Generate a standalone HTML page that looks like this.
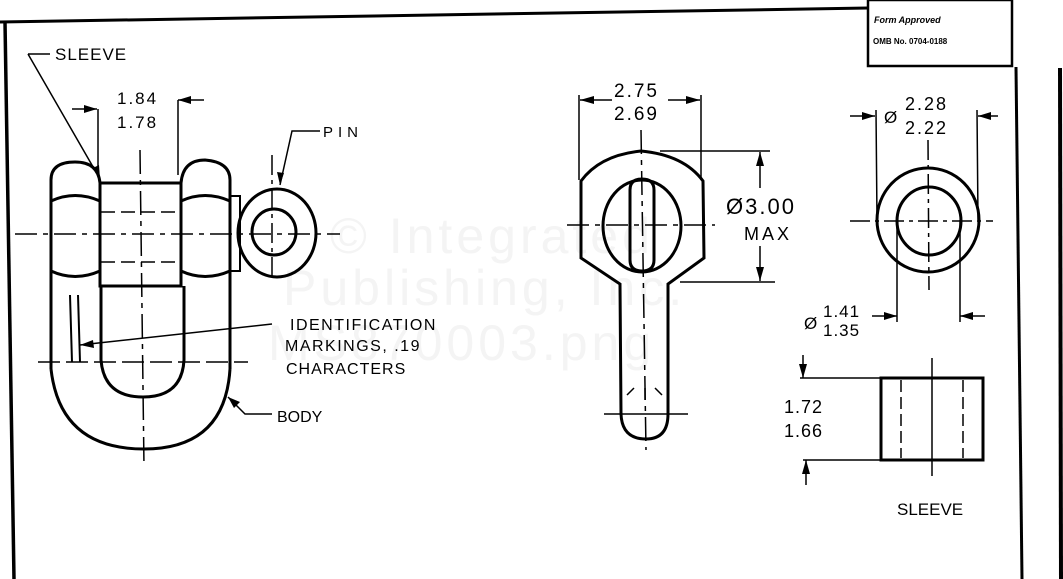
<!DOCTYPE html>
<html><head><meta charset="utf-8"><style>
html,body{margin:0;padding:0;background:#fff;}
svg{display:block;}
text{font-family:"Liberation Sans",sans-serif;fill:#000;}
.wm{fill:#f4f4f4;font-size:50px;}
</style></head><body>
<svg width="1063" height="579" viewBox="0 0 1063 579" xmlns="http://www.w3.org/2000/svg">
<!-- watermark -->
<text class="wm" x="330" y="253" letter-spacing="4">© Integrated</text>
<text class="wm" x="283" y="305" letter-spacing="4">Publishing, Inc.</text>
<text class="wm" x="268" y="360" letter-spacing="4">MS870003.png</text>

<g stroke="#000" fill="none">
<!-- borders -->
<path d="M0 22 L868 8" stroke-width="3"/>
<path d="M5 22 L14 579" stroke-width="3.5"/>
<path d="M1016 67 L1022 579" stroke-width="3"/>
<path d="M1060 68 L1061 579" stroke-width="4"/>
<rect x="868" y="0" width="144" height="66" stroke-width="2.5"/>

<!-- LEFT: shackle body -->
<g stroke-width="3">
<path d="M51 369 L51 180 Q51 162 75 162 Q98 162 100 183"/>
<path d="M181 183 Q183 160 205 160 Q230 162 230 180 L230 369"/>
<path d="M51 369 Q60 449 144 449 Q225 449 230 369"/>
<rect x="100" y="183" width="81" height="103"/>
<path d="M101 286 L101 360 Q104 397 143 397 Q182 397 184 360 L184 286"/>
<path d="M51 201 Q75 190 100 201 M181 201 Q205 190 230 201"/>
<path d="M51 271 Q75 282 100 271 M181 271 Q205 282 230 271"/>
<rect x="230" y="196" width="10" height="75" stroke-width="2"/>
<ellipse cx="277" cy="233" rx="39" ry="44"/>
<ellipse cx="274" cy="232" rx="22" ry="23"/>
</g>
<g stroke-width="1.5">
<path d="M15 234 L340 234" stroke-dasharray="22 6 5 6"/>
<path d="M140 150 L144 467" stroke-dasharray="24 6 5 6"/>
<path d="M272 155 L272 280" stroke-dasharray="20 5 4 5"/>
<path d="M38 362 L248 362" stroke-dasharray="22 6"/>
<path d="M101 212 L181 212 M101 262 L181 262" stroke-dasharray="14 6"/>
<path d="M70 295 L72 362 M78 295 L80 362" stroke-width="2"/>
<path d="M98 109 L98 170 M178 100 L178 175"/>
<path d="M72 109 L97 109 M178 100 L204 100"/>
<path d="M28 54 L50 54 M28 54 L100 179"/>
<path d="M320 131 L292 131 L280 185"/>
<path d="M272 324 L80 345"/>
<path d="M228 397 L245 414 L272 414"/>
</g>
<g fill="#000" stroke="none">
<path d="M97 109 L84 105 L84 113Z"/>
<path d="M178 100 L191 96 L191 104Z"/>
<path d="M100 179 L93 168 L99 165Z"/>
<path d="M280 185 L277 172 L284 173Z"/>
<path d="M80 345 L93 340 L94 348Z"/>
<path d="M228 397 L240 402 L234 408Z"/>
</g>

<!-- MIDDLE: pin -->
<g stroke-width="3">
<path d="M581 181 Q600 155 641 151 Q684 155 703 181 L704 258 L668 284 L668 414 Q668 439 646 439 Q622 439 621 414 L620 284 L581 258 Z"/>
<ellipse cx="642" cy="226" rx="39" ry="46"/>
<path d="M630 190 Q630 179 642 179 Q654 179 654 190 L654 260 Q654 271 642 271 Q630 271 630 260 Z"/>
</g>
<g stroke-width="1.5">
<path d="M567 225 L715 225" stroke-dasharray="22 6 5 6"/>
<path d="M641 130 L646 450" stroke-dasharray="24 6 5 6"/>
<path d="M604 414 L688 414"/>
<path d="M627 395 L634 388 M662 395 L655 388 M645 388 L645 400"/>
<path d="M579 95 L579 180 M701 95 L701 180"/>
<path d="M580 100 L612 100 M668 100 L700 100"/>
<path d="M660 151 L770 151 M680 282 L775 282"/>
<path d="M760 152 L760 188 M760 246 L760 281"/>
</g>
<g fill="#000" stroke="none">
<path d="M580 100 L594 96 L594 104Z"/>
<path d="M700 100 L686 96 L686 104Z"/>
<path d="M760 152 L756 166 L764 166Z"/>
<path d="M760 281 L756 267 L764 267Z"/>
</g>

<!-- RIGHT: pin end view -->
<g stroke-width="3">
<ellipse cx="928" cy="220" rx="51" ry="52"/>
<ellipse cx="929" cy="221" rx="32" ry="34"/>
<rect x="881" y="378" width="102" height="82"/>
</g>
<g stroke-width="1.5">
<path d="M850 221 L993 221" stroke-dasharray="20 5 4 5"/>
<path d="M928 140 L929 290" stroke-dasharray="20 5 4 5"/>
<path d="M876 110 L877 220 M977 110 L978 220"/>
<path d="M850 116 L875 116 M978 116 L998 116"/>
<path d="M897 220 L897 322 M960 220 L960 322"/>
<path d="M872 316 L897 316 M960 316 L985 316"/>
<path d="M901 380 L901 458 M963 380 L963 458" stroke-dasharray="12 5"/>
<path d="M932 358 L932 476"/>
<path d="M800 378 L881 378 M803 460 L881 460"/>
<path d="M803 355 L803 378 M806 460 L806 485"/>
</g>
<g fill="#000" stroke="none">
<path d="M875 116 L862 112 L862 120Z"/>
<path d="M978 116 L991 112 L991 120Z"/>
<path d="M897 316 L884 312 L884 320Z"/>
<path d="M960 316 L973 312 L973 320Z"/>
<path d="M803 378 L799 364 L807 364Z"/>
<path d="M806 460 L802 474 L810 474Z"/>
</g>
</g>

<!-- text -->
<g font-size="17">
<text x="55" y="60" letter-spacing="1">SLEEVE</text>
<text x="117" y="104" letter-spacing="2">1.84</text>
<text x="117" y="128" letter-spacing="2">1.78</text>
<text x="323" y="137" letter-spacing="5" font-size="15">PIN</text>
<text x="290" y="330" letter-spacing="1.5" font-size="16">IDENTIFICATION</text>
<text x="285" y="351" letter-spacing="1.5" font-size="16">MARKINGS, .19</text>
<text x="286" y="374" letter-spacing="1" font-size="16">CHARACTERS</text>
<text x="277" y="422" font-size="16">BODY</text>
<text x="614" y="97" font-size="19" letter-spacing="2">2.75</text>
<text x="614" y="120" font-size="19" letter-spacing="2">2.69</text>
<text x="726" y="214" font-size="22" letter-spacing="2">Ø3.00</text>
<text x="744" y="240" font-size="18" letter-spacing="3">MAX</text>
<text x="884" y="123" font-size="17">Ø</text>
<text x="905" y="110" font-size="18" letter-spacing="2">2.28</text>
<text x="905" y="134" font-size="18" letter-spacing="2">2.22</text>
<text x="804" y="329" font-size="17">Ø</text>
<text x="823" y="317" font-size="17" letter-spacing="1">1.41</text>
<text x="823" y="336" font-size="17" letter-spacing="1">1.35</text>
<text x="784" y="413" font-size="18" letter-spacing="1">1.72</text>
<text x="784" y="437" font-size="18" letter-spacing="1">1.66</text>
<text x="897" y="515" font-size="17">SLEEVE</text>
<text x="874" y="23" font-size="9" font-style="italic" font-weight="bold">Form Approved</text>
<text x="873" y="44" font-size="8" font-weight="bold">OMB No. 0704-0188</text>
</g>
</svg>
</body></html>
